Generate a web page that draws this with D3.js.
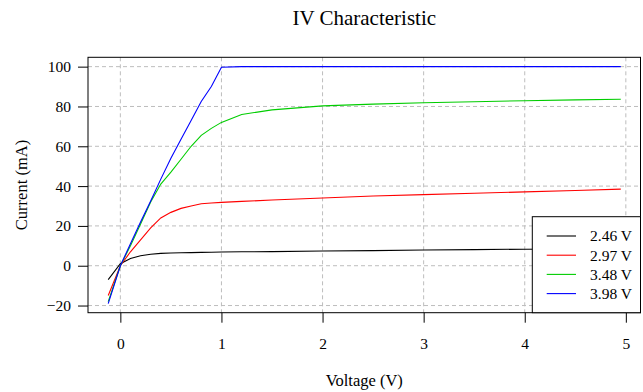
<!DOCTYPE html>
<html>
<head>
<meta charset="utf-8">
<script src="https://cdn.jsdelivr.net/npm/d3@7"></script>
<style>
  body { margin: 0; background: #fff; }
  text { font-family: "Liberation Serif", "DejaVu Serif", serif; fill: #000; }
</style>
</head>
<body>
<div id="chart"></div>
<script>
var svgWidth = 643;
var svgHeight = 392;

// plot box edges (R style box)
var box = { left: 88, right: 640.5, top: 57.3, bottom: 312.7 };

// data
var voltage = [-0.12, 0, 0.1, 0.2, 0.3, 0.4, 0.5, 0.6, 0.7, 0.8, 0.9, 1.0, 1.2, 1.5, 2, 2.5, 3, 3.5, 4, 4.5, 4.95];
var seriesNames = ["2.46 V", "2.97 V", "3.48 V", "3.98 V"];
var seriesColors = ["#000000", "#ff0000", "#00cd00", "#0000ff"];
var current246 = [-7, 1, 3.6, 5, 5.8, 6.2, 6.4, 6.5, 6.6, 6.7, 6.8, 6.9, 7.0, 7.1, 7.4, 7.6, 7.9, 8.1, 8.3, 8.4, 8.5];
var current297 = [-15, 0, 7, 13, 19, 24, 26.8, 28.8, 30, 31.1, 31.5, 31.8, 32.3, 33, 34, 35, 35.7, 36.4, 37.1, 37.8, 38.5];
var current348 = [-18, 0, 10, 21, 32, 41, 47, 53.5, 60, 65.5, 69, 72, 76, 78.3, 80.3, 81.2, 81.9, 82.4, 82.9, 83.3, 83.6];
var current398 = [-19, 0, 11, 22, 32.5, 43.5, 54, 63.5, 73, 82.5, 90, 99.7, 100, 100, 100, 100, 100, 100, 100, 100, 100];
var currents = [current246, current297, current348, current398];

var xTicks = [0, 1, 2, 3, 4, 5];
var yTicks = [-20, 0, 20, 40, 60, 80, 100];

var svg = d3.select("#chart")
  .append("svg")
  .attr("width", svgWidth)
  .attr("height", svgHeight);

var xScale = d3.scaleLinear()
  .domain([-0.32, 5.145])
  .range([box.left, box.right]);

var yScale = d3.scaleLinear()
  .domain([-23.6, 104.7])
  .range([box.bottom, box.top]);

// grid
svg.append("g").selectAll("line")
  .data(xTicks)
  .enter()
  .append("line")
  .attr("x1", d => xScale(d)).attr("x2", d => xScale(d))
  .attr("y1", box.top).attr("y2", box.bottom)
  .attr("stroke", "#bdbdbd")
  .attr("stroke-dasharray", "4,3");

svg.append("g").selectAll("line")
  .data(yTicks)
  .enter()
  .append("line")
  .attr("x1", box.left).attr("x2", box.right)
  .attr("y1", d => yScale(d)).attr("y2", d => yScale(d))
  .attr("stroke", "#bdbdbd")
  .attr("stroke-dasharray", "4,3");

// axes
var bottomAxis = d3.axisBottom(xScale).tickValues(xTicks).tickFormat(d3.format("d"))
  .tickSize(10).tickPadding(15).tickSizeOuter(0);
var leftAxis = d3.axisLeft(yScale).tickValues(yTicks)
  .tickFormat(d => d < 0 ? "\u2212" + Math.abs(d) : d)
  .tickSize(10).tickPadding(7).tickSizeOuter(0);

var gx = svg.append("g")
  .attr("transform", `translate(0, ${box.bottom})`)
  .call(bottomAxis);
gx.select(".domain").remove();
gx.selectAll("text").attr("font-size", "15.5px").attr("font-family", null);

var gy = svg.append("g")
  .attr("transform", `translate(${box.left}, 0)`)
  .call(leftAxis);
gy.select(".domain").remove();
gy.selectAll("text").attr("font-size", "15.5px").attr("font-family", null);

// curves
var line = d3.line()
  .x(d => xScale(d[0]))
  .y(d => yScale(d[1]));

currents.forEach(function(values, i) {
  svg.append("path")
    .datum(voltage.map((v, j) => [v, values[j]]))
    .attr("d", line)
    .attr("fill", "none")
    .attr("stroke", seriesColors[i])
    .attr("stroke-width", 1.1);
});

// box
svg.append("rect")
  .attr("x", box.left).attr("y", box.top)
  .attr("width", box.right - box.left)
  .attr("height", box.bottom - box.top)
  .attr("fill", "none")
  .attr("stroke", "#000");

// legend
var legend = svg.append("g");
legend.append("rect")
  .attr("x", 532.3).attr("y", 216.7)
  .attr("width", box.right - 532.3)
  .attr("height", box.bottom - 216.7)
  .attr("fill", "#fff")
  .attr("stroke", "#000");

var legendItems = legend.selectAll("g.item")
  .data(seriesNames)
  .enter()
  .append("g")
  .attr("transform", (d, i) => `translate(0, ${236 + i * 19.2})`);

legendItems.append("line")
  .attr("x1", 546.7).attr("x2", 576)
  .attr("stroke", (d, i) => seriesColors[i])
  .attr("stroke-width", 1.1);

legendItems.append("text")
  .attr("x", 590)
  .attr("dy", "0.35em")
  .attr("font-size", "15.5px")
  .text(d => d);

// titles
svg.append("text")
  .attr("x", (box.left + box.right) / 2)
  .attr("y", 25)
  .attr("text-anchor", "middle")
  .attr("font-size", "21px")
  .text("IV Characteristic");

svg.append("text")
  .attr("x", (box.left + box.right) / 2)
  .attr("y", 386)
  .attr("text-anchor", "middle")
  .attr("font-size", "16.5px")
  .text("Voltage (V)");

svg.append("text")
  .attr("transform", "rotate(-90)")
  .attr("x", -(box.top + box.bottom) / 2)
  .attr("y", 27)
  .attr("text-anchor", "middle")
  .attr("font-size", "16.5px")
  .text("Current (mA)");
</script>
</body>
</html>
